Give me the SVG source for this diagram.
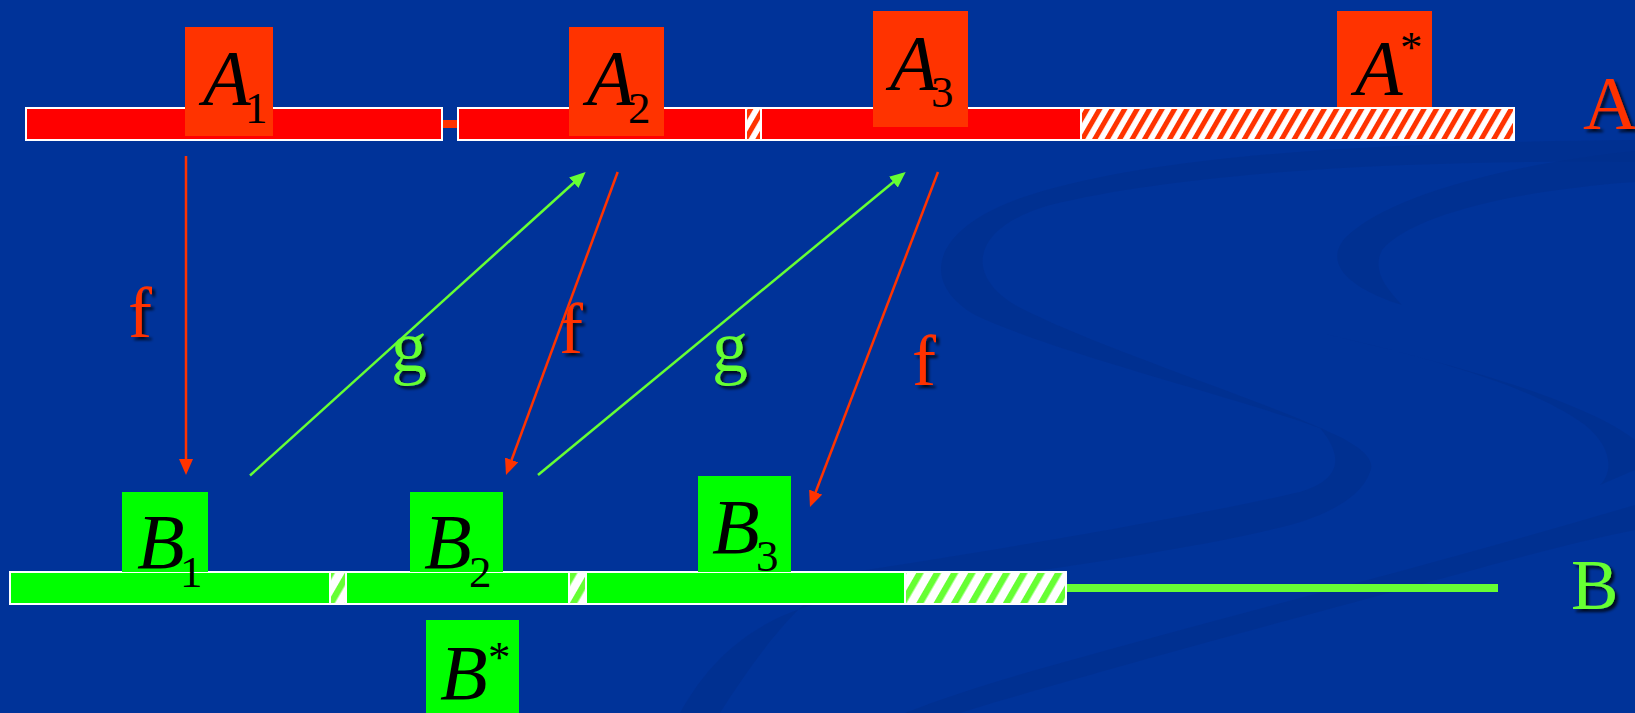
<svg xmlns="http://www.w3.org/2000/svg" width="1635" height="713" viewBox="0 0 1635 713">
<defs>
<style>
.bar{stroke:#fff;stroke-width:2}
.ra{fill:#ff0000}
.ga{fill:#00ff00}
.lbr{fill:#ff3300}
.lbg{fill:#00ff00}
.m{font-family:"Liberation Serif","Times New Roman",serif;fill:#000}
.mi{font-style:italic;font-size:78px}
.sub{font-size:45px}
.lab{font-family:"Liberation Serif","Times New Roman",serif;filter:url(#sh)}
.fr{fill:#ff3300}
.fg{fill:#66ff33}
.swirl{fill:#002f8c;opacity:0.6}
.cr{stroke:#ff3300;stroke-width:2.5;fill:none;marker-end:url(#ahr)}
.cg{stroke:#66ff33;stroke-width:2.5;fill:none;marker-end:url(#ahg)}
</style>
<pattern id="hr" patternUnits="userSpaceOnUse" width="10.8" height="20" patternTransform="rotate(30)">
<rect width="10.8" height="20" fill="#fff"/>
<rect width="5" height="20" fill="#ff3300"/>
</pattern>
<pattern id="hg" patternUnits="userSpaceOnUse" width="15" height="20" patternTransform="rotate(30)">
<rect width="15" height="20" fill="#fff"/>
<rect width="6.5" height="20" fill="#66ff33"/>
</pattern>
<marker id="ahr" markerUnits="userSpaceOnUse" markerWidth="16" markerHeight="14" refX="12" refY="7" orient="auto">
<path d="M0,0 L16,7 L0,14 Z" fill="#ff3300"/>
</marker>
<marker id="ahg" markerUnits="userSpaceOnUse" markerWidth="16" markerHeight="14" refX="12" refY="7" orient="auto">
<path d="M0,0 L16,7 L0,14 Z" fill="#66ff33"/>
</marker>
<filter id="sh" x="-20%" y="-20%" width="150%" height="150%">
<feDropShadow dx="3" dy="3" stdDeviation="1.5" flood-color="#000" flood-opacity="0.8"/>
</filter>
</defs>

<rect width="1635" height="713" fill="#003399"/>

<g id="background">
<path class="swirl" d="M1635 140 C1420 142 1170 150 1030 195 C935 225 915 280 975 315 C1060 355 1230 395 1325 430 C1240 392 1090 345 1015 305 C965 275 970 228 1050 205 C1200 168 1450 160 1635 162 Z"/>
<path class="swirl" d="M1320 428 C1362 445 1376 460 1370 472 C1362 496 1330 514 1290 525 C1200 548 1050 570 850 597 C780 607 720 640 680 713 L720 713 C760 650 810 582 860 571 C1010 548 1200 515 1300 492 C1340 480 1345 458 1320 428 Z"/>
<path class="swirl" d="M1635 151 C1500 165 1385 198 1345 238 C1320 268 1360 292 1402 305 C1385 287 1372 270 1382 250 C1412 214 1520 190 1635 182 Z"/>
<path class="swirl" d="M1325 334 C1430 358 1530 385 1585 425 C1610 445 1615 470 1600 485 L1635 470 L1635 440 C1590 405 1480 370 1325 334 Z"/>
<path class="swirl" d="M1635 505 C1450 560 1250 610 1050 666 C1000 680 950 695 905 713 L960 713 C1050 685 1250 630 1400 590 C1480 568 1560 545 1635 530 Z"/>
</g>

<g id="rowA">
<rect x="440" y="120" width="20" height="8" fill="#ff3300"/>
<rect id="A1bar" class="bar ra" x="26" y="108" width="416" height="32"/>
<rect id="A2bar" class="bar ra" x="458" y="108" width="288" height="32"/>
<rect class="bar" x="746" y="108" width="15" height="32" fill="url(#hr)"/>
<rect id="A3bar" class="bar ra" x="761" y="108" width="320" height="32"/>
<rect class="bar" x="1081" y="108" width="433" height="32" fill="url(#hr)"/>
</g>

<g id="A1">
<rect class="lbr" x="185" y="27" width="88" height="109"/>
<text class="m"><tspan class="mi" x="203" y="104">A</tspan><tspan class="sub" x="245" y="123">1</tspan></text>
</g>
<g id="A2">
<rect class="lbr" x="569" y="27" width="95" height="109"/>
<text class="m"><tspan class="mi" x="587" y="104">A</tspan><tspan class="sub" x="628" y="123">2</tspan></text>
</g>
<g id="A3">
<rect class="lbr" x="873" y="11" width="95" height="116"/>
<text class="m"><tspan class="mi" x="890" y="89">A</tspan><tspan class="sub" x="931" y="107">3</tspan></text>
</g>
<g id="Astar">
<rect class="lbr" x="1337" y="11" width="95" height="96"/>
<text class="m"><tspan class="mi" x="1355" y="94">A</tspan><tspan class="sub" x="1400" y="62">*</tspan></text>
</g>
<g id="labelA">
<text class="lab fr" x="1583" y="129" font-size="76">A</text>
</g>

<g id="rowB">
<rect id="B1bar" class="bar ga" x="10" y="572" width="320" height="32"/>
<rect class="bar" x="330" y="572" width="16" height="32" fill="url(#hg)"/>
<rect id="B2bar" class="bar ga" x="346" y="572" width="223" height="32"/>
<rect class="bar" x="569" y="572" width="17" height="32" fill="url(#hg)"/>
<rect id="B3bar" class="bar ga" x="586" y="572" width="319" height="32"/>
<rect class="bar" x="905" y="572" width="161" height="32" fill="url(#hg)"/>
<rect x="1067" y="584" width="431" height="8" fill="#66ff33"/>
</g>

<g id="B1">
<rect class="lbg" x="122" y="492" width="86" height="80"/>
<text class="m"><tspan class="mi" x="137" y="568">B</tspan><tspan class="sub" x="180" y="587">1</tspan></text>
</g>
<g id="B2">
<rect class="lbg" x="410" y="492" width="93" height="80"/>
<text class="m"><tspan class="mi" x="424" y="568">B</tspan><tspan class="sub" x="469" y="587">2</tspan></text>
</g>
<g id="B3">
<rect class="lbg" x="698" y="476" width="93" height="96"/>
<text class="m"><tspan class="mi" x="712" y="553">B</tspan><tspan class="sub" x="756" y="571">3</tspan></text>
</g>
<g id="Bstar">
<rect class="lbg" x="426" y="620" width="93" height="93"/>
<text class="m"><tspan class="mi" x="440" y="699">B</tspan><tspan class="sub" x="488" y="672">*</tspan></text>
</g>
<g id="labelB">
<text class="lab fg" x="1571" y="609" font-size="71">B</text>
</g>

<g id="connectors">
<line class="cr" x1="186" y1="156" x2="186" y2="471"/>
<line class="cg" x1="250" y1="475.5" x2="582.7" y2="174.7"/>
<line class="cr" x1="617.7" y1="172" x2="507.4" y2="471.2"/>
<line class="cg" x1="538" y1="475" x2="902.6" y2="174.5"/>
<line class="cr" x1="938" y1="172" x2="811.4" y2="503.3"/>
<text class="lab fr" x="128" y="337" font-size="72">f</text>
<text class="lab fg" x="391" y="371" font-size="72">g</text>
<text class="lab fr" x="559" y="353" font-size="72">f</text>
<text class="lab fg" x="712" y="371" font-size="72">g</text>
<text class="lab fr" x="912" y="385" font-size="72">f</text>
</g>
</svg>
